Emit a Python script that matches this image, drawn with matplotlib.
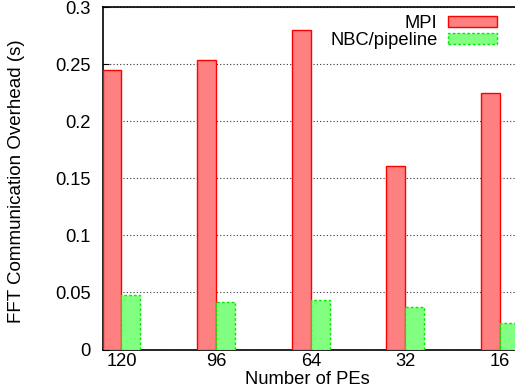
import numpy as np
import matplotlib
matplotlib.use('Agg')
import matplotlib.pyplot as plt

plt.rcParams['font.family'] = ['Liberation Sans', 'DejaVu Sans']

pes = ['120', '96', '64', '32', '16']
mpi = [0.245, 0.254, 0.280, 0.1605, 0.225]
nbc = [0.048, 0.0415, 0.0437, 0.0368, 0.0235]

W, H = 515, 391
fs = 13.2
fig = plt.figure(figsize=(W / 100, H / 100), dpi=100)
# axes run a bit past the right edge, like the original crop
ax = fig.add_axes([102.5 / W, 1 - 349.5 / H, (519 - 102.5) / W, (349.5 - 7) / H])

x = np.arange(len(pes))
bw = 0.2
ax.bar(x - bw / 2, mpi, bw, color='#ff8080', edgecolor='#ff0000', linewidth=1,
       label='MPI', zorder=3)
ax.bar(x + bw / 2, nbc, bw, color='#80ff80', edgecolor='#00ee00', linewidth=1,
       linestyle=(0, (2, 1.5)), label='NBC/pipeline', zorder=3)

ax.set_xlim(-0.2, 4.2)
ax.set_ylim(0, 0.3)
ax.set_xticks(x)
ax.set_xticklabels(pes)
ax.set_yticks([0, 0.05, 0.1, 0.15, 0.2, 0.25, 0.3])
ax.set_yticklabels(['0', '0.05', '0.1', '0.15', '0.2', '0.25', '0.3'])
ax.yaxis.grid(True, linestyle=(0, (1, 2)), color='#333333', linewidth=0.8, zorder=0)
ax.tick_params(axis='both', direction='in', length=4, labelsize=fs)
ax.tick_params(axis='y', pad=8.5)
ax.tick_params(axis='x', pad=2.5, length=0)
for s in ['top', 'left', 'bottom', 'right']:
    ax.spines[s].set_linewidth(1.2)

xl = ax.set_xlabel('Number of PEs', fontsize=fs)
xl.set_va('baseline')
ax.xaxis.set_label_coords(0.4915, -0.1016)
ax.set_ylabel('FFT Communication Overhead (s)', fontsize=fs + 0.3)
ax.yaxis.set_label_coords(-0.186, 0.49)

ax.legend(loc='upper right', bbox_to_anchor=(497 / W, 1 - 15 / H),
          bbox_transform=fig.transFigure, frameon=False, markerfirst=False,
          fontsize=fs, handlelength=2.7, handleheight=0.5, handletextpad=0.55,
          labelspacing=0.0, borderaxespad=0, borderpad=0)

fig.savefig('out.png', dpi=100)
